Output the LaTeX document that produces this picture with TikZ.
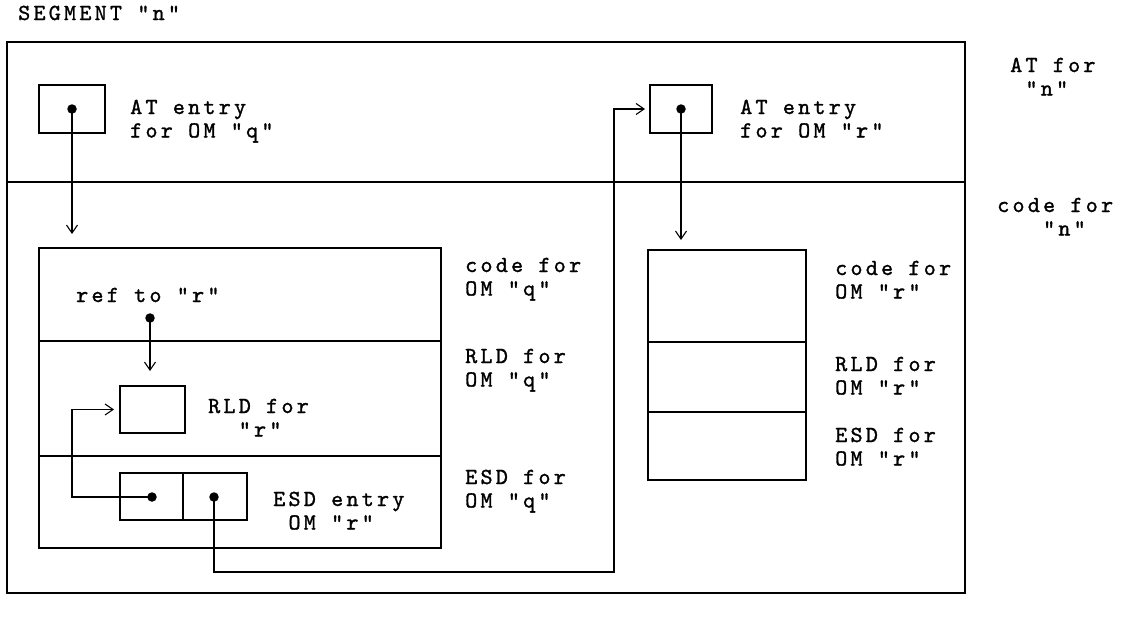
\documentclass[tikz,border=0pt]{standalone}
\usepackage{fontspec}
\newfontfamily\cour{lmmono10-regular.otf}[LetterSpace=14, FakeBold=1.2]
\usetikzlibrary{arrows.meta,calc}
\newlength\chw \setlength\chw{15.3pt}
\newcommand\myind[1]{\hspace*{#1\chw}}
\newcommand\lbl[1]{\begin{tabular}[t]{@{}l@{}}#1\end{tabular}}
\begin{document}
\begin{tikzpicture}[x=1pt,y=-1pt,
  every node/.style={font=\cour\fontsize{23}{23.5}\selectfont},
  txt/.style={anchor=base west, inner sep=0pt},
  box/.style={draw, line width=1.3pt, inner sep=0pt, outer sep=0pt, anchor=north west},
  divline/.style={line width=1.3pt},
  dot/.style={circle, fill, inner sep=0pt, minimum size=9.5pt},
  conn/.style={line width=1.1pt},
  arr/.style={conn, -{Straight Barb[length=8pt,width=11pt,line width=1.1pt]}}]
\useasboundingbox (0,0) rectangle (1147,616);
\node[txt] (seg) at (18,20) {SEGMENT "n"};
% outer segment box
\node[box, line width=1.6pt, minimum width=958pt, minimum height=551pt] (outer) at (7,42) {};
\draw[divline, line width=1.6pt] (outer.west |- 0,182) -- (outer.east |- 0,182);
% AT entry q
\node[box, minimum width=66pt, minimum height=48pt] (atq) at (39,85) {};
\node[dot] (dq) at (atq.center) {};
\node[txt] (atqt) at (130,114) {\lbl{AT entry\\for OM "q"}};
% big box for OM q
\node[box, minimum width=402pt, minimum height=300pt] (bigq) at (39,248) {};
\draw[divline] (bigq.west |- 0,341) -- (bigq.east |- 0,341);
\draw[divline] (bigq.west |- 0,456) -- (bigq.east |- 0,456);
\draw[arr, shorten >=14pt] (dq.center) -- (dq.center |- bigq.north);
\node[txt] (ref) at (76,302) {ref to "r"};
\node[dot] (dr) at (150,318) {};
\node[box, minimum width=65pt, minimum height=47pt] (rld) at (120,386) {};
\draw[arr, shorten >=15pt] (dr.center) -- (dr.center |- rld.north);
\node[txt] (rldt) at (208,413) {\lbl{RLD for\\\myind{2}"r"}};
\node[box, minimum width=63pt, minimum height=47pt] (esd1) at (120,473) {};
\node[box, minimum width=64pt, minimum height=47pt] (esd2) at (183,473) {};
\node[dot] (de1) at (152,497) {};
\node[dot] (de2) at (214,497) {};
\node[txt] (esdt) at (273,506) {\lbl{ESD entry\\\myind{1}OM "r"}};
\coordinate (k1) at (72,0);
\draw[arr, shorten >=6pt] (de1.center) -- (de1.center -| k1) |- (rld.west);
% labels for OM q
\node[txt] (cq) at (465,272) {\lbl{code for\\OM "q"}};
\node[txt] (rq) at (465,363) {\lbl{RLD for\\OM "q"}};
\node[txt] (eq) at (465,484) {\lbl{ESD for\\OM "q"}};
% AT entry r
\node[box, minimum width=62pt, minimum height=48pt] (atr) at (650,85) {};
\node[dot] (dar) at (atr.center) {};
\node[txt] (atrt) at (740,114) {\lbl{AT entry\\for OM "r"}};
\coordinate (k2) at (614,572);
\draw[arr, shorten >=5pt] (de2.center) |- (k2) |- (atr.west);
% stack for OM r
\node[box, minimum width=158pt, minimum height=230pt] (stk) at (648,250) {};
\draw[divline] (stk.west |- 0,342) -- (stk.east |- 0,342);
\draw[divline] (stk.west |- 0,412) -- (stk.east |- 0,412);
\draw[arr, shorten >=10pt] (dar.center) -- (dar.center |- stk.north);
\node[txt] (cr) at (835,275) {\lbl{code for\\OM "r"}};
\node[txt] (rr) at (835,371) {\lbl{RLD for\\OM "r"}};
\node[txt] (er) at (835,442) {\lbl{ESD for\\OM "r"}};
% right-hand labels
\node[txt] (atn) at (1010,72) {\lbl{AT for\\\myind{1}"n"}};
\node[txt] (cn) at (997,212) {\lbl{code for\\\myind{3}"n"}};
\end{tikzpicture}
\end{document}
